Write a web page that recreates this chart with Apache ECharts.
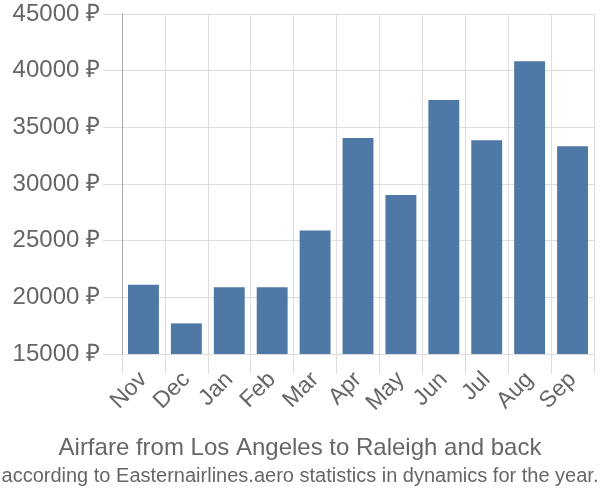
<!DOCTYPE html>
<html>
<head>
<meta charset="utf-8">
<script src="https://cdn.jsdelivr.net/npm/echarts@6/dist/echarts.min.js"></script>
<style>html,body{margin:0;padding:0;background:#fff;}#c{width:600px;height:500px;}</style>
</head>
<body>
<div id="c"></div>
<script>
const categories = ['Nov','Dec','Jan','Feb','Mar','Apr','May','Jun','Jul','Aug','Sep'];
const prices = [21100, 17700, 20900, 20900, 25900, 34060, 29030, 37410, 33860, 40830, 33330];
const yTicks = [15000, 20000, 25000, 30000, 35000, 40000, 45000];
const titleText = 'Airfare from Los Angeles to Raleigh and back';
const subtitleText = 'according to Easternairlines.aero statistics in dynamics for the year.';

const chart = echarts.init(document.getElementById('c'), null, {renderer: 'canvas'});
chart.setOption({
  animation: false,
  grid: {left: 122, right: 6, top: 14, bottom: 146, containLabel: false},
  title: {
    text: titleText,
    subtext: subtitleText,
    left: 'center',
    top: 431,
    itemGap: 6,
    textStyle: {fontFamily: 'Liberation Sans', fontSize: 24, fontWeight: 'normal', color: '#666'},
    subtextStyle: {fontFamily: 'Liberation Sans', fontSize: 20, color: '#666'}
  },
  xAxis: {
    type: 'category',
    data: categories,
    boundaryGap: true,
    axisLine: {show: true, lineStyle: {color: '#ddd', width: 1}},
    axisTick: {show: true, length: 20, alignWithLabel: false, lineStyle: {color: '#ddd'}},
    splitLine: {show: true, lineStyle: {color: '#ddd'}},
    axisLabel: {rotate: 45, margin: 22, fontFamily: 'Liberation Sans', fontSize: 23, color: '#666', interval: 0}
  },
  yAxis: {
    type: 'value',
    min: yTicks[0],
    max: yTicks[yTicks.length - 1],
    interval: 5000,
    axisLine: {show: true, lineStyle: {color: '#aaa', width: 1}},
    axisTick: {show: true, length: 19, lineStyle: {color: '#ddd'}},
    splitLine: {show: true, lineStyle: {color: '#ddd'}},
    axisLabel: {margin: 22, fontFamily: 'Liberation Sans', fontSize: 24, color: '#666',
      formatter: v => v + ' ₽'}
  },
  series: [{
    type: 'bar',
    data: prices,
    barCategoryGap: '28%',
    itemStyle: {color: '#4e79a7', borderColor: '#8eaccc', borderWidth: 0}
  }]
});
</script>
</body>
</html>
